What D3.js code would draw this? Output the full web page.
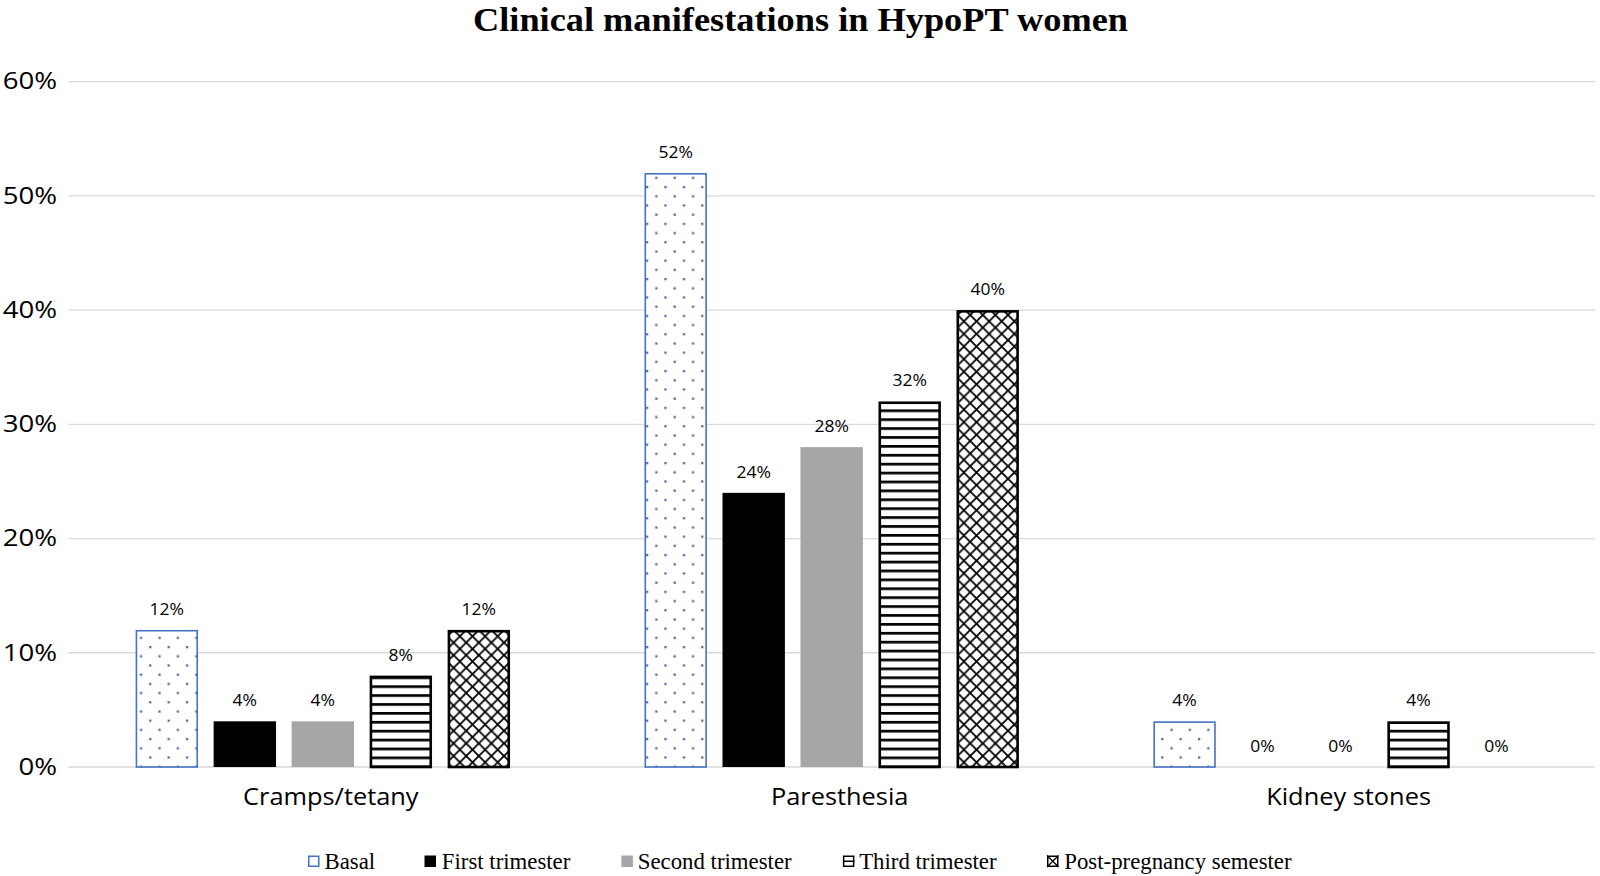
<!DOCTYPE html>
<html><head><meta charset="utf-8">
<script src="https://cdn.jsdelivr.net/npm/d3@7/dist/d3.min.js"></script>
<style>body{margin:0;background:#fff}svg{display:block}</style>
</head><body><svg id="c" width="1600" height="876"></svg>
<script>
const categories = ["Cramps/tetany", "Paresthesia", "Kidney stones"];
const seriesNames = ["Basal", "First trimester", "Second trimester", "Third trimester", "Post-pregnancy semester"];
const basal = [12, 52, 4];
const first = [4, 24, 0];
const second = [4, 28, 0];
const third = [8, 32, 4];
const post = [12, 40, 0];
const yTicks = [0, 10, 20, 30, 40, 50, 60];
const seriesValues = [basal, first, second, third, post];

(function(){
const svg = d3.select("#c");
const defs = svg.append("defs");
const dotC = "#3f64a8";
const pd = defs.append("pattern").attr("id","pDots").attr("patternUnits","userSpaceOnUse").attr("width",18.4).attr("height",18.4);
pd.append("rect").attr("width",18.4).attr("height",18.4).attr("fill","#fff");
pd.append("rect").attr("x",2).attr("y",2).attr("width",2.2).attr("height",2.2).attr("fill",dotC);
pd.append("rect").attr("x",11.2).attr("y",11.2).attr("width",2.2).attr("height",2.2).attr("fill",dotC);
const ph = defs.append("pattern").attr("id","pHoriz").attr("patternUnits","userSpaceOnUse").attr("width",9).attr("height",8.9);
ph.append("rect").attr("width",9).attr("height",8.9).attr("fill","#fff");
ph.append("rect").attr("y",0).attr("width",9).attr("height",2.7).attr("fill","#000");
const P = 12.6;
const px = defs.append("pattern").attr("id","pCross").attr("patternUnits","userSpaceOnUse").attr("width",P).attr("height",P);
px.append("rect").attr("width",P).attr("height",P).attr("fill","#fff");
px.append("path").attr("d",`M-1,-1 L${P+1},${P+1} M${P+1},-1 L-1,${P+1}`).attr("stroke","#000").attr("stroke-width",1.8);

const fills = ["url(#pDots)", "#000", "#a6a6a6", "url(#pHoriz)", "url(#pCross)"];
const strokes = ["#4472c4", "none", "none", "#000", "#000"];
const strokeW = [1.6, 0, 0, 2.6, 2.6];

const mL = 68.4, mR = 1595, mT = 81.6, mB = 767;
const x0 = d3.scaleBand().domain(categories).range([mL, mR]).paddingInner(0).paddingOuter(0);
const x1 = d3.scaleBand().domain(seriesNames).range([0, x0.bandwidth()]).paddingInner(0.2).paddingOuter(0.862);
const y = d3.scaleLinear().domain([0, 60]).range([mB, mT]);

svg.append("g").selectAll("line").data(yTicks).join("line")
  .attr("x1", mL).attr("x2", mR)
  .attr("y1", d => y(d)).attr("y2", d => y(d))
  .attr("stroke", "#d9d9d9").attr("stroke-width", 1.3);

svg.append("g").selectAll("text").data(yTicks).join("text")
  .attr("transform", d => `translate(57,${y(d) + 7.8}) scale(1.2,1)`)
  .attr("text-anchor", "end").attr("font-family", "'Open Sans', sans-serif").attr("font-size", 23)
  .attr("fill", "#000").text(d => d + "%");

const g = svg.append("g");
seriesNames.forEach((s, si) => {
  const vals = seriesValues[si];
  categories.forEach((c, ci) => {
    const v = vals[ci];
    const bx = x0(c) + x1(s), bw = x1.bandwidth();
    if (v > 0) {
      const sw = strokeW[si];
      g.append("rect")
        .attr("x", bx + sw/2).attr("y", y(v) + sw/2)
        .attr("width", bw - sw).attr("height", y(0) - y(v) - sw/2)
        .attr("fill", fills[si]).attr("stroke", strokes[si]).attr("stroke-width", sw);
    }
    g.append("text").attr("transform", `translate(${bx + bw/2},${y(v) - 15}) scale(1.13,1)`)
      .attr("text-anchor", "middle").attr("font-family", "'Open Sans', sans-serif").attr("font-size", 15.5)
      .attr("fill", "#000").text(v + "%");
  });
});

svg.append("g").selectAll("text").data(categories).join("text")
  .attr("transform", d => `translate(${x0(d) + x0.bandwidth()/2 + 8},805) scale(1.08,1)`)
  .attr("text-anchor", "middle").attr("font-family", "'Open Sans', sans-serif").attr("font-size", 23.5)
  .attr("fill", "#000").text(d => d);

svg.append("text").attr("x", 473).attr("y", 30.5)
  .attr("textLength", 655).attr("lengthAdjust", "spacingAndGlyphs")
  .attr("font-family", "'Liberation Serif', 'Times New Roman', serif").attr("font-weight", "bold")
  .attr("font-size", 33.5).attr("fill", "#000").text("Clinical manifestations in HypoPT women");

// legend
const legM = [308, 424.5, 621.4, 842.9, 1047];
const legT = [324.5, 441.8, 637.8, 859.2, 1064.3];
const ly = 855.5, ls = 11.5;
const lg = svg.append("g");
seriesNames.forEach((s, i) => {
  const mx = legM[i];
  if (i === 0) {
    lg.append("rect").attr("x", mx + 0.75).attr("y", ly + 0.75).attr("width", ls - 1.5).attr("height", ls - 1.5)
      .attr("fill", "#fff").attr("stroke", "#4472c4").attr("stroke-width", 1.5);
  } else if (i === 1 || i === 2) {
    lg.append("rect").attr("x", mx).attr("y", ly).attr("width", ls).attr("height", ls).attr("fill", fills[i]);
  } else if (i === 3) {
    lg.append("rect").attr("x", mx + 0.75).attr("y", ly + 0.75).attr("width", ls - 1.5).attr("height", ls - 1.5)
      .attr("fill", "#fff").attr("stroke", "#000").attr("stroke-width", 1.5);
    lg.append("line").attr("x1", mx).attr("x2", mx + ls).attr("y1", ly + ls/2).attr("y2", ly + ls/2)
      .attr("stroke", "#000").attr("stroke-width", 1.5);
  } else {
    lg.append("rect").attr("x", mx + 0.75).attr("y", ly + 0.75).attr("width", ls - 1.5).attr("height", ls - 1.5)
      .attr("fill", "#fff").attr("stroke", "#000").attr("stroke-width", 1.5);
    lg.append("path").attr("d", `M${mx},${ly} L${mx+ls},${ly+ls} M${mx+ls},${ly} L${mx},${ly+ls}`)
      .attr("stroke", "#000").attr("stroke-width", 1.3);
  }
  lg.append("text").attr("x", legT[i]).attr("y", 868.5)
    .attr("font-family", "'Liberation Serif', 'Times New Roman', serif").attr("font-size", 22.8)
    .attr("fill", "#000").text(s);
});
})();
</script></body></html>
